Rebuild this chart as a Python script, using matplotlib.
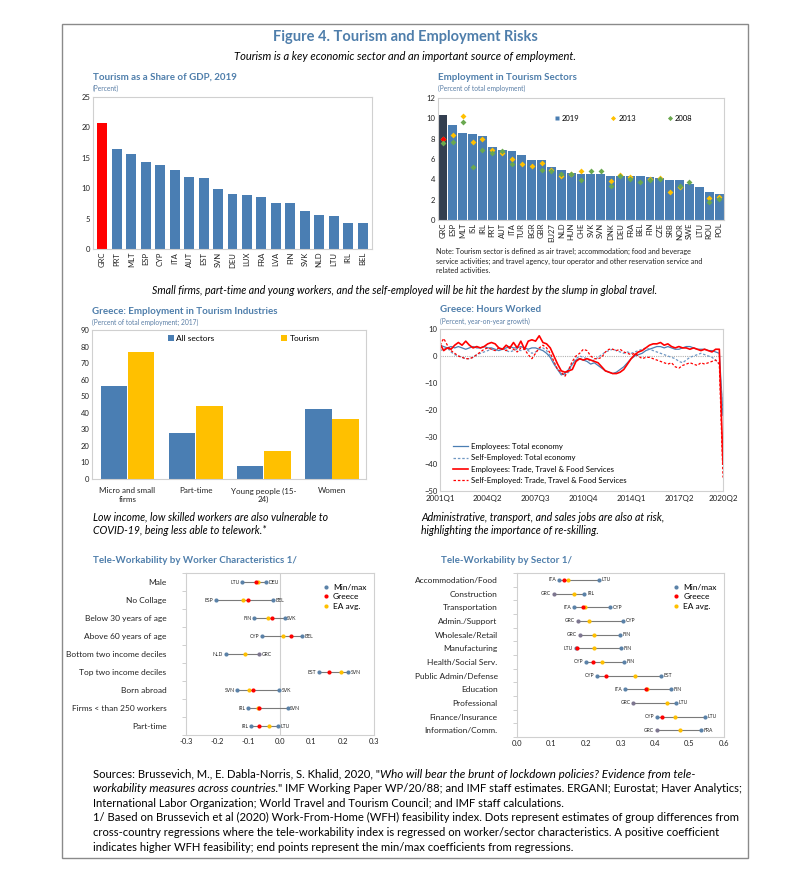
import matplotlib
matplotlib.use('Agg')
import matplotlib.pyplot as plt
import numpy as np
from matplotlib.patches import Rectangle
from matplotlib.lines import Line2D

plt.rcParams['font.family'] = ['Lato', 'DejaVu Sans']
plt.rcParams['axes.linewidth'] = 0.8

# ---------------- DATA ----------------
gdp_countries = ['GRC', 'PRT', 'MLT', 'ESP', 'CYP', 'ITA', 'AUT', 'EST', 'SVN', 'DEU',
                 'LUX', 'FRA', 'LVA', 'FIN', 'SVK', 'NLD', 'LTU', 'IRL', 'BEL']
gdp_share = [20.8, 16.5, 15.7, 14.3, 13.8, 13.0, 11.8, 11.7, 9.9, 9.1,
             8.9, 8.5, 7.6, 7.5, 6.3, 5.6, 5.4, 4.3, 4.2]

emp_countries = ['GRC', 'ESP', 'MLT', 'ISL', 'IRL', 'PRT', 'AUT', 'ITA', 'TUR', 'BGR',
                 'GBR', 'EU27', 'NLD', 'HUN', 'CHE', 'SVK', 'SVN', 'DNK', 'DEU', 'FRA',
                 'BEL', 'FIN', 'CZE', 'SRB', 'NOR', 'SWE', 'LTU', 'ROU', 'POL']
emp_2019 = [10.3, 9.3, 8.6, 8.5, 8.3, 7.2, 6.9, 6.8, 6.4, 5.9,
            5.9, 5.2, 4.9, 4.6, 4.5, 4.5, 4.5, 4.3, 4.3, 4.3,
            4.3, 4.2, 4.1, 3.9, 3.9, 3.5, 3.2, 2.8, 2.6]
emp_2013 = [8.0, 8.4, 10.2, 7.7, 8.0, 6.9, 6.6, 6.0, 5.5, 5.3,
            5.6, 4.9, 4.3, 4.5, 4.8, np.nan, np.nan, 3.8, 4.4, 4.2,
            np.nan, 4.0, 4.1, 2.8, 3.2, np.nan, np.nan, 2.2, 2.3]
emp_2008 = [7.6, 7.7, 9.6, 5.2, 6.9, 6.6, 6.8, 5.5, np.nan, np.nan,
            4.9, 4.8, 4.5, 4.5, 3.9, 4.8, 4.8, 3.3, 4.3, 4.0,
            3.7, 3.9, 4.0, np.nan, 3.3, 3.7, np.nan, 1.8, 2.1]

grc_categories = ['Micro and small\nfirms', 'Part-time', 'Young people (15-\n24)', 'Women']
grc_all_sectors = [56, 28, 8, 42]
grc_tourism = [77, 44, 17, 36]

hours_ticks = ['2001Q1', '2004Q2', '2007Q3', '2010Q4', '2014Q1', '2017Q2', '2020Q2']
hours_tick_pos = [0, 13, 26, 39, 52, 65, 77]
emp_total = [4, 3.5, 3, 3.5, 3, 3.5, 3, 2.5, 3, 3.5, 3, 3, 3.5, 3, 3, 2.5,
             2, 2.5, 3, 3.5, 3, 3, 3.5, 3, 2.5, 3, 3, 2.5, 2, 1, -0.5, -3,
             -5, -7, -6.5, -5, -3, -1.5, -1, -1.5, -2, -3, -2.5, -3.5,
             -4.5, -5.5, -6, -6.5, -6, -5, -4, -2.5, -1, 0, 0.5, 1,
             2, 2.5, 3, 3.5, 3.5, 3, 3.5, 3, 2.5, 2.5, 3, 3.5, 3.5, 3, 2.5, 2.5,
             2.5, 2, 2, 1.5, 1, -22]
self_total = [2, 2.5, 3, 1.5, 0.5, 0, -0.5, -1, -1, -0.5, 0.5, 1, 1.5, 2, 2.5, 2,
              2.5, 3, 2, 1.5, 2, 2.5, 2, 2.5, 2, 1, 1.5, 2.5, 3, 2, 0, -2.5,
              -5, -6.5, -7, -6, -3, -1, 0, -0.5, -1, -2, -1.5, -0.5,
              0.5, 1.5, 2, 2.5, 2, 1.5, 1, 1.5, 1, 1.5, 2, 2.5,
              3, 2.5, 2, 1.5, 1, 0.5, 0, -0.5, -1, -2, -2.5, -1.5, -0.5, 0, 0.5, 1,
              0.5, 0, -0.5, -1.5, -3, -21]
emp_ttf = [4.5, 2, 3, 2.5, 4, 5, 4, 5.5, 4, 3, 3.5, 3, 3.5, 4.5, 5, 4.5,
           3, 2.5, 4, 3, 5, 3, 5.5, 2.5, 5.5, 6, 5.5, 7.5, 5, 4.5, 3, 0,
           -3, -5.5, -6, -5.5, -5, -2, -1, -1.5, -1, -1.5, -2, -2.5,
           -4, -5.5, -6, -6.5, -6.5, -6, -5, -3, -1, 0.5, 1.5, 2,
           3, 4, 4.5, 4.5, 5, 4, 4.5, 3.5, 3, 3.5, 3, 3, 2.5, 3, 2.5, 2,
           2.5, 2, 1.5, 2.5, 2.5, -40]
self_ttf = [4, 6.5, 4, 2, 1, 0, -0.5, -1, -1, -0.5, 0.5, 1.5, 2.5, 3, 2.5, 2,
            3, 2.5, 2, 3, 2.5, 1.5, 3, 2.5, 0.5, -1, 1, 3, 4, 3, 1, -2,
            -5, -6, -7.5, -5, -2, 0, 1, 2.5, 2, 0, -1, -1,
            -0.5, 1.5, 2.5, 2.5, 2, 2.5, 1.5, 1, 0.5, 1, 0, -1,
            -0.5, -0.5, -1, -1.5, -2, -2.5, -3, -2.5, -4, -4.5, -3.5, -3, -2.5, -3, -3.5, -2.5,
            -3, -2.5, -2, -1.5, -3, -45]

worker_rows = ['Male', 'No Collage', 'Below 30 years of age', 'Above 60 years of age',
               'Bottom two income deciles', 'Top two income deciles', 'Born abroad',
               'Firms < than 250 workers', 'Part-time']
worker_min_lbl = ['LTU', 'ESP', 'FIN', 'CYP', 'NLD', 'EST', 'SVN', 'IRL', 'IRL']
worker_max_lbl = ['DEU', 'BEL', 'SVK', 'BEL', 'GRC', 'SVN', 'SVK', 'SVN', 'LTU']
worker_min = [-0.120, -0.205, -0.084, -0.059, -0.173, 0.124, -0.137, -0.103, -0.092]
worker_max = [-0.046, -0.023, 0.015, 0.070, -0.066, 0.218, -0.002, 0.024, -0.007]
worker_greece = [-0.077, -0.103, -0.025, 0.035, np.nan, 0.155, -0.085, -0.067, -0.066]
worker_ea = [-0.070, -0.118, -0.037, 0.010, -0.112, 0.196, -0.098, -0.071, -0.034]

sector_rows = ['Accommodation/Food', 'Construction', 'Transportation', 'Admin./Support',
               'Wholesale/Retail', 'Manufacturing', 'Health/Social Serv.',
               'Public Admin/Defense', 'Education', 'Professional', 'Finance/Insurance',
               'Information/Comm.']
sector_min_lbl = ['ITA', 'GRC', 'ITA', 'GRC', 'GRC', 'LTU', 'CYP', 'CYP', 'ITA', 'GRC', 'CYP', 'GRC']
sector_max_lbl = ['LTU', 'IRL', 'CYP', 'CYP', 'FIN', 'FIN', 'FIN', 'EST', 'FIN', 'LTU', 'LTU', 'FRA']
sector_min = [0.122, 0.107, 0.164, 0.176, 0.182, 0.170, 0.200, 0.232, 0.312, 0.337, 0.406, 0.406]
sector_max = [0.238, 0.195, 0.269, 0.306, 0.298, 0.301, 0.310, 0.417, 0.447, 0.460, 0.545, 0.534]
sector_greece = [0.136, np.nan, 0.190, np.nan, np.nan, 0.174, 0.220, 0.258, 0.374, np.nan, 0.421, np.nan]
sector_ea = [0.149, 0.165, 0.198, 0.209, 0.224, 0.224, 0.246, 0.341, 0.378, 0.436, 0.457, 0.472]

# ---------------- STYLE ----------------
BLUE = '#4a7eb3'
TITLE_C = '#4f7eab'
SUB_C = '#5b7fa6'
YEL = '#ffc000'
GRN = '#6aa84f'
RED = '#ff0000'
DARK = '#333f50'
FRAME = '#d0d0d0'
DOT_BLUE = '#5b82a8'
GRC_DOT = '#7d7690'
TXT = '#222222'

W, H = 791, 872
fig = plt.figure(figsize=(W / 100, H / 100), dpi=100)


def ax_at(l, t, r, b):
    ax = fig.add_axes([l / W, 1 - b / H, (r - l) / W, (b - t) / H])
    for s in ax.spines.values():
        s.set_color(FRAME)
        s.set_linewidth(0.8)
    ax.tick_params(labelsize=5.5, length=0, colors=TXT, pad=2)
    return ax


def ftext(x, y, s, **kw):
    return fig.text(x / W, 1 - y / H, s, **kw)


fig.patches.append(Rectangle((62 / W, 1 - 858 / H), (748 - 62) / W, (858 - 24) / H,
                             transform=fig.transFigure, fill=False, ec='#8a8a8a', lw=1.0))

ftext(405, 37, 'Figure 4. Tourism and Employment Risks', ha='center', va='center',
      fontsize=10.5, fontweight='bold', color=TITLE_C)
ftext(405, 57, 'Tourism is a key economic sector and an important source of employment.',
      ha='center', va='center', fontsize=8, style='italic', color='black')
ftext(405, 290, 'Small firms, part-time and young workers, and the self-employed will be hit the hardest by the slump in global travel.',
      ha='center', va='center', fontsize=7.6, style='italic', color='black')
ftext(93, 524, 'Low income, low skilled workers are also vulnerable to\nCOVID-19, being less able to telework.*',
      ha='left', va='center', fontsize=7.6, style='italic', color='black', linespacing=1.25)
ftext(421, 524, 'Administrative, transport, and sales jobs are also at risk,\nhighlighting the importance of re-skilling.',
      ha='left', va='center', fontsize=7.6, style='italic', color='black', linespacing=1.25)


def panel_title(x, y, title, sub=None):
    ftext(x, y, title, ha='left', va='center', fontsize=7, fontweight='bold', color=TITLE_C)
    if sub:
        ftext(x, y + 11, sub, ha='left', va='center', fontsize=4.8, color=SUB_C)


# ---- Panel 1 ----
panel_title(93, 77, 'Tourism as a Share of GDP, 2019', '(Percent)')
ax1 = ax_at(93, 97, 372, 249)
x1 = np.arange(len(gdp_countries))
ax1.bar(x1, gdp_share, width=0.68, color=[RED] + [BLUE] * (len(gdp_share) - 1))
ax1.set_ylim(0, 25)
ax1.set_yticks(range(0, 26, 5))
ax1.set_xlim(-0.65, len(x1) - 0.35)
ax1.set_xticks(x1)
ax1.set_xticklabels(gdp_countries, rotation=90)

# ---- Panel 2 ----
panel_title(438, 77, 'Employment in Tourism Sectors', '(Percent of total employment)')
ax2 = ax_at(438, 98, 724, 220)
x2 = np.arange(len(emp_countries))
ax2.bar(x2, emp_2019, width=0.9, color=[DARK] + [BLUE] * (len(emp_2019) - 1))
ax2.plot(x2, emp_2013, ls='none', marker='D', ms=3, color=YEL, mec='none')
ax2.plot(x2[:1], emp_2013[:1], ls='none', marker='D', ms=3, color=RED, mec='none')
ax2.plot(x2, emp_2008, ls='none', marker='D', ms=3, color=GRN, mec='none')
ax2.set_ylim(0, 12)
ax2.set_yticks(range(0, 13, 2))
ax2.set_xlim(-0.5, len(x2) - 0.5)
ax2.set_xticks(x2)
ax2.set_xticklabels(emp_countries, rotation=90)
h2 = [Line2D([], [], ls='none', marker='s', ms=3, color=BLUE, mec='none'),
      Line2D([], [], ls='none', marker='D', ms=2.6, color=YEL, mec='none'),
      Line2D([], [], ls='none', marker='D', ms=2.6, color=GRN, mec='none')]
ax2.legend(h2, ['2019', '2013', '2008'], loc='upper left', bbox_to_anchor=(0.38, 0.92), ncol=3,
           frameon=False, fontsize=5.5, handlelength=0.8, handletextpad=0.3, columnspacing=4.0)
ftext(436, 261, 'Note: Tourism sector is defined as air travel; accommodation; food and beverage\n'
      'service activities; and travel agency, tour operator and other reservation service and\n'
      'related activities.', ha='left', va='center', fontsize=5.2, color=TXT, linespacing=1.35)

# ---- Panel 3 ----
panel_title(92, 311, 'Greece: Employment in Tourism Industries', '(Percent of total employment; 2017)')
ax3 = ax_at(92, 330, 366, 479)
x3 = np.arange(len(grc_categories))
ax3.bar(x3 - 0.2, grc_all_sectors, width=0.39, color=BLUE, label='All sectors')
ax3.bar(x3 + 0.2, grc_tourism, width=0.39, color=YEL, label='Tourism')
ax3.set_ylim(0, 90)
ax3.set_yticks(range(0, 91, 10))
ax3.set_xlim(-0.52, 3.5)
ax3.set_xticks(x3)
ax3.set_xticklabels(grc_categories, fontsize=5.8, linespacing=1.2)
ax3.tick_params(axis='x', pad=6)
ax3.legend(loc='upper left', bbox_to_anchor=(0.25, 1.02), ncol=2, frameon=False, fontsize=6,
           handlelength=0.7, handleheight=0.7, handletextpad=0.3, columnspacing=8)

# ---- Panel 4 ----
panel_title(440, 310, 'Greece: Hours Worked', '(Percent, year-on-year growth)')
ax4 = ax_at(440, 329, 723, 491)
t = np.arange(len(emp_total))
ax4.axhline(0, color='#b0b0b0', lw=0.8, ls=(0, (1, 1)))
ax4.plot(t, emp_total, color=BLUE, lw=0.9, label='Employees: Total economy')
ax4.plot(t, self_total, color='#6f97c2', lw=0.9, ls=(0, (2, 1.5)), label='Self-Employed: Total economy')
ax4.plot(t, emp_ttf, color=RED, lw=1.2, label='Employees: Trade, Travel & Food Services')
ax4.plot(t, self_ttf, color=RED, lw=0.9, ls=(0, (2, 1.5)), label='Self-Employed: Trade, Travel & Food Services')
ax4.set_ylim(-50, 10)
ax4.set_yticks(range(-50, 11, 10))
ax4.set_xlim(0, len(t) - 1)
ax4.set_xticks(hours_tick_pos)
ax4.set_xticklabels(hours_ticks, fontsize=5.8)
ax4.tick_params(axis='x', pad=3)
ax4.legend(loc='lower left', bbox_to_anchor=(0.02, 0.0), frameon=False, fontsize=5.6,
           handlelength=2.0, handletextpad=0.4, labelspacing=0.55)


# ---- Dot panels ----
def dot_panel(ax, rows, mn, mx, gr, ea, mnl, mxl, xlim, xt, zero_line, yoff):
    n = len(rows)
    y = np.arange(n)[::-1]
    for i in range(n):
        ax.plot([mn[i], mx[i]], [y[i], y[i]], color='#7a7a7a', lw=0.8, zorder=1)
        cmin = GRC_DOT if mnl[i] == 'GRC' else DOT_BLUE
        cmax = GRC_DOT if mxl[i] == 'GRC' else DOT_BLUE
        ax.plot(mn[i], y[i], 'o', ms=3, color=cmin, mec='none', zorder=2)
        ax.plot(mx[i], y[i], 'o', ms=3, color=cmax, mec='none', zorder=2)
        ax.text(mn[i] - yoff, y[i], mnl[i], ha='right', va='center', fontsize=3.6, color=TXT)
        ax.text(mx[i] + yoff, y[i], mxl[i], ha='left', va='center', fontsize=3.6, color=TXT)
    ax.plot(ea, y, 'o', ls='none', ms=3, color=YEL, mec='none', zorder=3)
    ax.plot(gr, y, 'o', ls='none', ms=3, color=RED, mec='none', zorder=4)
    if zero_line:
        ax.axvline(0, color='#cfcfcf', lw=0.8, zorder=0)
    ax.set_xlim(*xlim)
    ax.set_xticks(xt)
    ax.set_xticklabels(['%.1f' % v for v in xt])
    ax.set_ylim(-0.5, n - 0.5)
    ax.set_yticks(y)
    ax.set_yticklabels(rows, fontsize=6)
    ax.tick_params(axis='y', pad=14)
    ax.set_yticks(np.arange(-0.5, n, 1.0), minor=True)
    ax.tick_params(axis='y', which='minor', length=3, color='#c8c8c8', direction='out')
    hs = [Line2D([], [], ls='none', marker='o', ms=3, color=c, mec='none') for c in (DOT_BLUE, RED, YEL)]
    ax.legend(hs, ['Min/max', 'Greece', 'EA avg.'], loc='upper right', bbox_to_anchor=(1.0, 0.98),
              frameon=False, fontsize=6, handlelength=0.8, handletextpad=0.4, labelspacing=0.3)


ftext(93, 560, 'Tele-Workability by Worker Characteristics 1/', ha='left', va='center',
      fontsize=7, fontweight='bold', color=TITLE_C)
ax5 = ax_at(186, 573, 374, 735)
dot_panel(ax5, worker_rows, worker_min, worker_max, worker_greece, worker_ea,
          worker_min_lbl, worker_max_lbl, (-0.3, 0.3), np.arange(-0.3, 0.31, 0.1), True, 0.008)

ftext(441, 560, 'Tele-Workability by Sector 1/', ha='left', va='center',
      fontsize=7, fontweight='bold', color=TITLE_C)
ax6 = ax_at(517, 573, 724, 737)
dot_panel(ax6, sector_rows, sector_min, sector_max, sector_greece, sector_ea,
          sector_min_lbl, sector_max_lbl, (0, 0.6), np.arange(0, 0.61, 0.1), False, 0.008)

# ---- Sources ----
fig.canvas.draw()
renderer = fig.canvas.get_renderer()
SRC_FS = 8.1


def rich_line(x, y, segments):
    cx = x / W
    for txt, style in segments:
        fs = SRC_FS * 1.03 if style == 'italic' else SRC_FS
        tt = fig.text(cx, 1 - y / H, txt, ha='left', va='center', fontsize=fs,
                      style=style, color='black')
        bb = tt.get_window_extent(renderer=renderer)
        cx = (bb.x1) / W


lines = [
    [('Sources: Brussevich, M., E. Dabla-Norris, S. Khalid, 2020, "', 'normal'),
     ('Who will bear the brunt of lockdown policies? Evidence from tele-', 'italic')],
    [('workability measures across countries.', 'italic'),
     ('" IMF Working Paper WP/20/88; and IMF staff estimates. ERGANI; Eurostat; Haver Analytics;', 'normal')],
    [('International Labor Organization; World Travel and Tourism Council; and IMF staff calculations.', 'normal')],
    [('1/ Based on Brussevich et al (2020) Work-From-Home (WFH) feasibility index. Dots represent estimates of group differences from', 'normal')],
    [('cross-country regressions where the tele-workability index is regressed on worker/sector characteristics. A positive coefficient', 'normal')],
    [('indicates higher WFH feasibility; end points represent the min/max coefficients from regressions.', 'normal')],
]
for k, seg in enumerate(lines):
    rich_line(93, 774 + k * 14.6, seg)

fig.savefig('out.png', dpi=100)
